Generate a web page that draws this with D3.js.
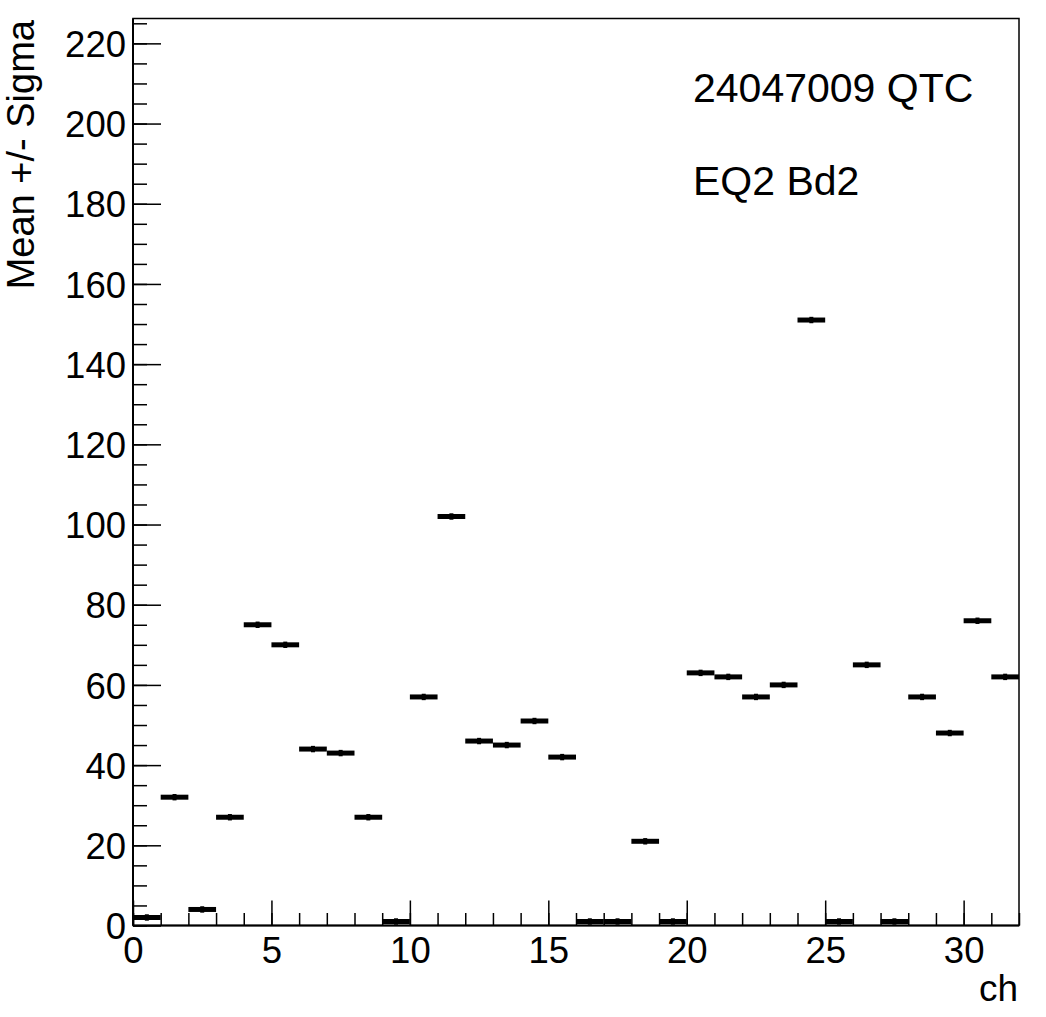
<!DOCTYPE html>
<html>
<head>
<meta charset="utf-8">
<script src="https://cdn.jsdelivr.net/npm/d3@7"></script>
<style>
  body { margin: 0; background: #fff; }
  text { font-family: "Liberation Sans", Arial, Helvetica, sans-serif; fill: #000; }
</style>
</head>
<body>
<svg id="chart" width="1046" height="1017"></svg>
<script>
// channel means (bin i spans [i, i+1])
const channels = d3.range(32);
const means = [2, 32, 4, 27, 75, 70, 44, 43, 27, 1, 57, 102, 46, 45, 51, 42,
               1, 1, 21, 1, 63, 62, 57, 60, 151, 1, 65, 1, 57, 48, 76, 62];
const sigmas = channels.map(() => 0.8);
const xTicks = [0, 5, 10, 15, 20, 25, 30];
const yTicks = [0, 20, 40, 60, 80, 100, 120, 140, 160, 180, 200, 220];
const titleLines = ['24047009 QTC', 'EQ2 Bd2'];

const margin = { left: 133, right: 27, top: 18.5, bottom: 91.5 };
const svg = d3.select('#chart');
const width = 1046 - margin.left - margin.right;
const height = 1017 - margin.top - margin.bottom;

const xScale = d3.scaleLinear().domain([0, 32]).range([0, width]);
const yScale = d3.scaleLinear().domain([0, 226.2]).range([height, 0]);

const g = svg.append('g').attr('transform', `translate(${margin.left},${margin.top})`);

// minor ticks
g.append('g')
  .call(d3.axisLeft(yScale).tickValues(d3.range(0, 226, 5)).tickSize(-14).tickFormat(''))
  .call(a => a.select('.domain').remove())
  .selectAll('line').attr('stroke-width', 1.5);
g.append('g')
  .attr('transform', `translate(0,${height})`)
  .call(d3.axisBottom(xScale).tickValues(d3.range(0, 33, 1)).tickSize(-12.5).tickFormat(''))
  .call(a => a.select('.domain').remove())
  .selectAll('line').attr('stroke-width', 1.5);

// major ticks + labels
const yAxis = g.append('g')
  .call(d3.axisLeft(yScale).tickValues(yTicks).tickSize(-28).tickPadding(7))
  .call(a => a.select('.domain').remove());
yAxis.selectAll('line').attr('stroke-width', 1.5);
yAxis.selectAll('text').style('font-size', '36.5px').attr('dy', '0.36em');

const xAxis = g.append('g')
  .attr('transform', `translate(0,${height})`)
  .call(d3.axisBottom(xScale).tickValues(xTicks).tickSize(-25).tickPadding(12))
  .call(a => a.select('.domain').remove());
xAxis.selectAll('line').attr('stroke-width', 1.5);
xAxis.selectAll('text').style('font-size', '36.5px');

// frame
g.append('rect')
  .attr('width', width).attr('height', height)
  .attr('fill', 'none').attr('stroke', '#000').attr('stroke-width', 1.5);
g.append('line').attr('x1', 0).attr('x2', 0).attr('y1', 0).attr('y2', height)
  .attr('stroke', '#000').attr('stroke-width', 2);
g.append('line').attr('x1', 0).attr('x2', width).attr('y1', height).attr('y2', height)
  .attr('stroke', '#000').attr('stroke-width', 2);

// marks: horizontal bin bars with tiny error bars
const marks = g.append('g').attr('class', 'marks');
marks.selectAll('line.bin')
  .data(channels)
  .join('line')
  .attr('class', 'bin')
  .attr('x1', d => xScale(d)).attr('x2', d => xScale(d + 1))
  .attr('y1', d => yScale(means[d])).attr('y2', d => yScale(means[d]))
  .attr('stroke', '#000').attr('stroke-width', 5);
marks.selectAll('line.err')
  .data(channels)
  .join('line')
  .attr('class', 'err')
  .attr('x1', d => xScale(d + 0.5)).attr('x2', d => xScale(d + 0.5))
  .attr('y1', d => yScale(means[d] - sigmas[d])).attr('y2', d => yScale(means[d] + sigmas[d]))
  .attr('stroke', '#000').attr('stroke-width', 4);

// axis titles
svg.append('text')
  .attr('x', 1018).attr('y', 1001)
  .attr('text-anchor', 'end')
  .style('font-size', '37px')
  .text('ch');
svg.append('text')
  .attr('transform', 'translate(33.5,20) rotate(-90)')
  .attr('text-anchor', 'end')
  .style('font-size', '38px')
  .text('Mean +/- Sigma');

// annotation
svg.selectAll('text.note')
  .data(titleLines)
  .join('text')
  .attr('class', 'note')
  .attr('x', 693)
  .attr('y', (d, i) => 102 + i * 93)
  .style('font-size', '41px')
  .text(d => d);
</script>
</body>
</html>
